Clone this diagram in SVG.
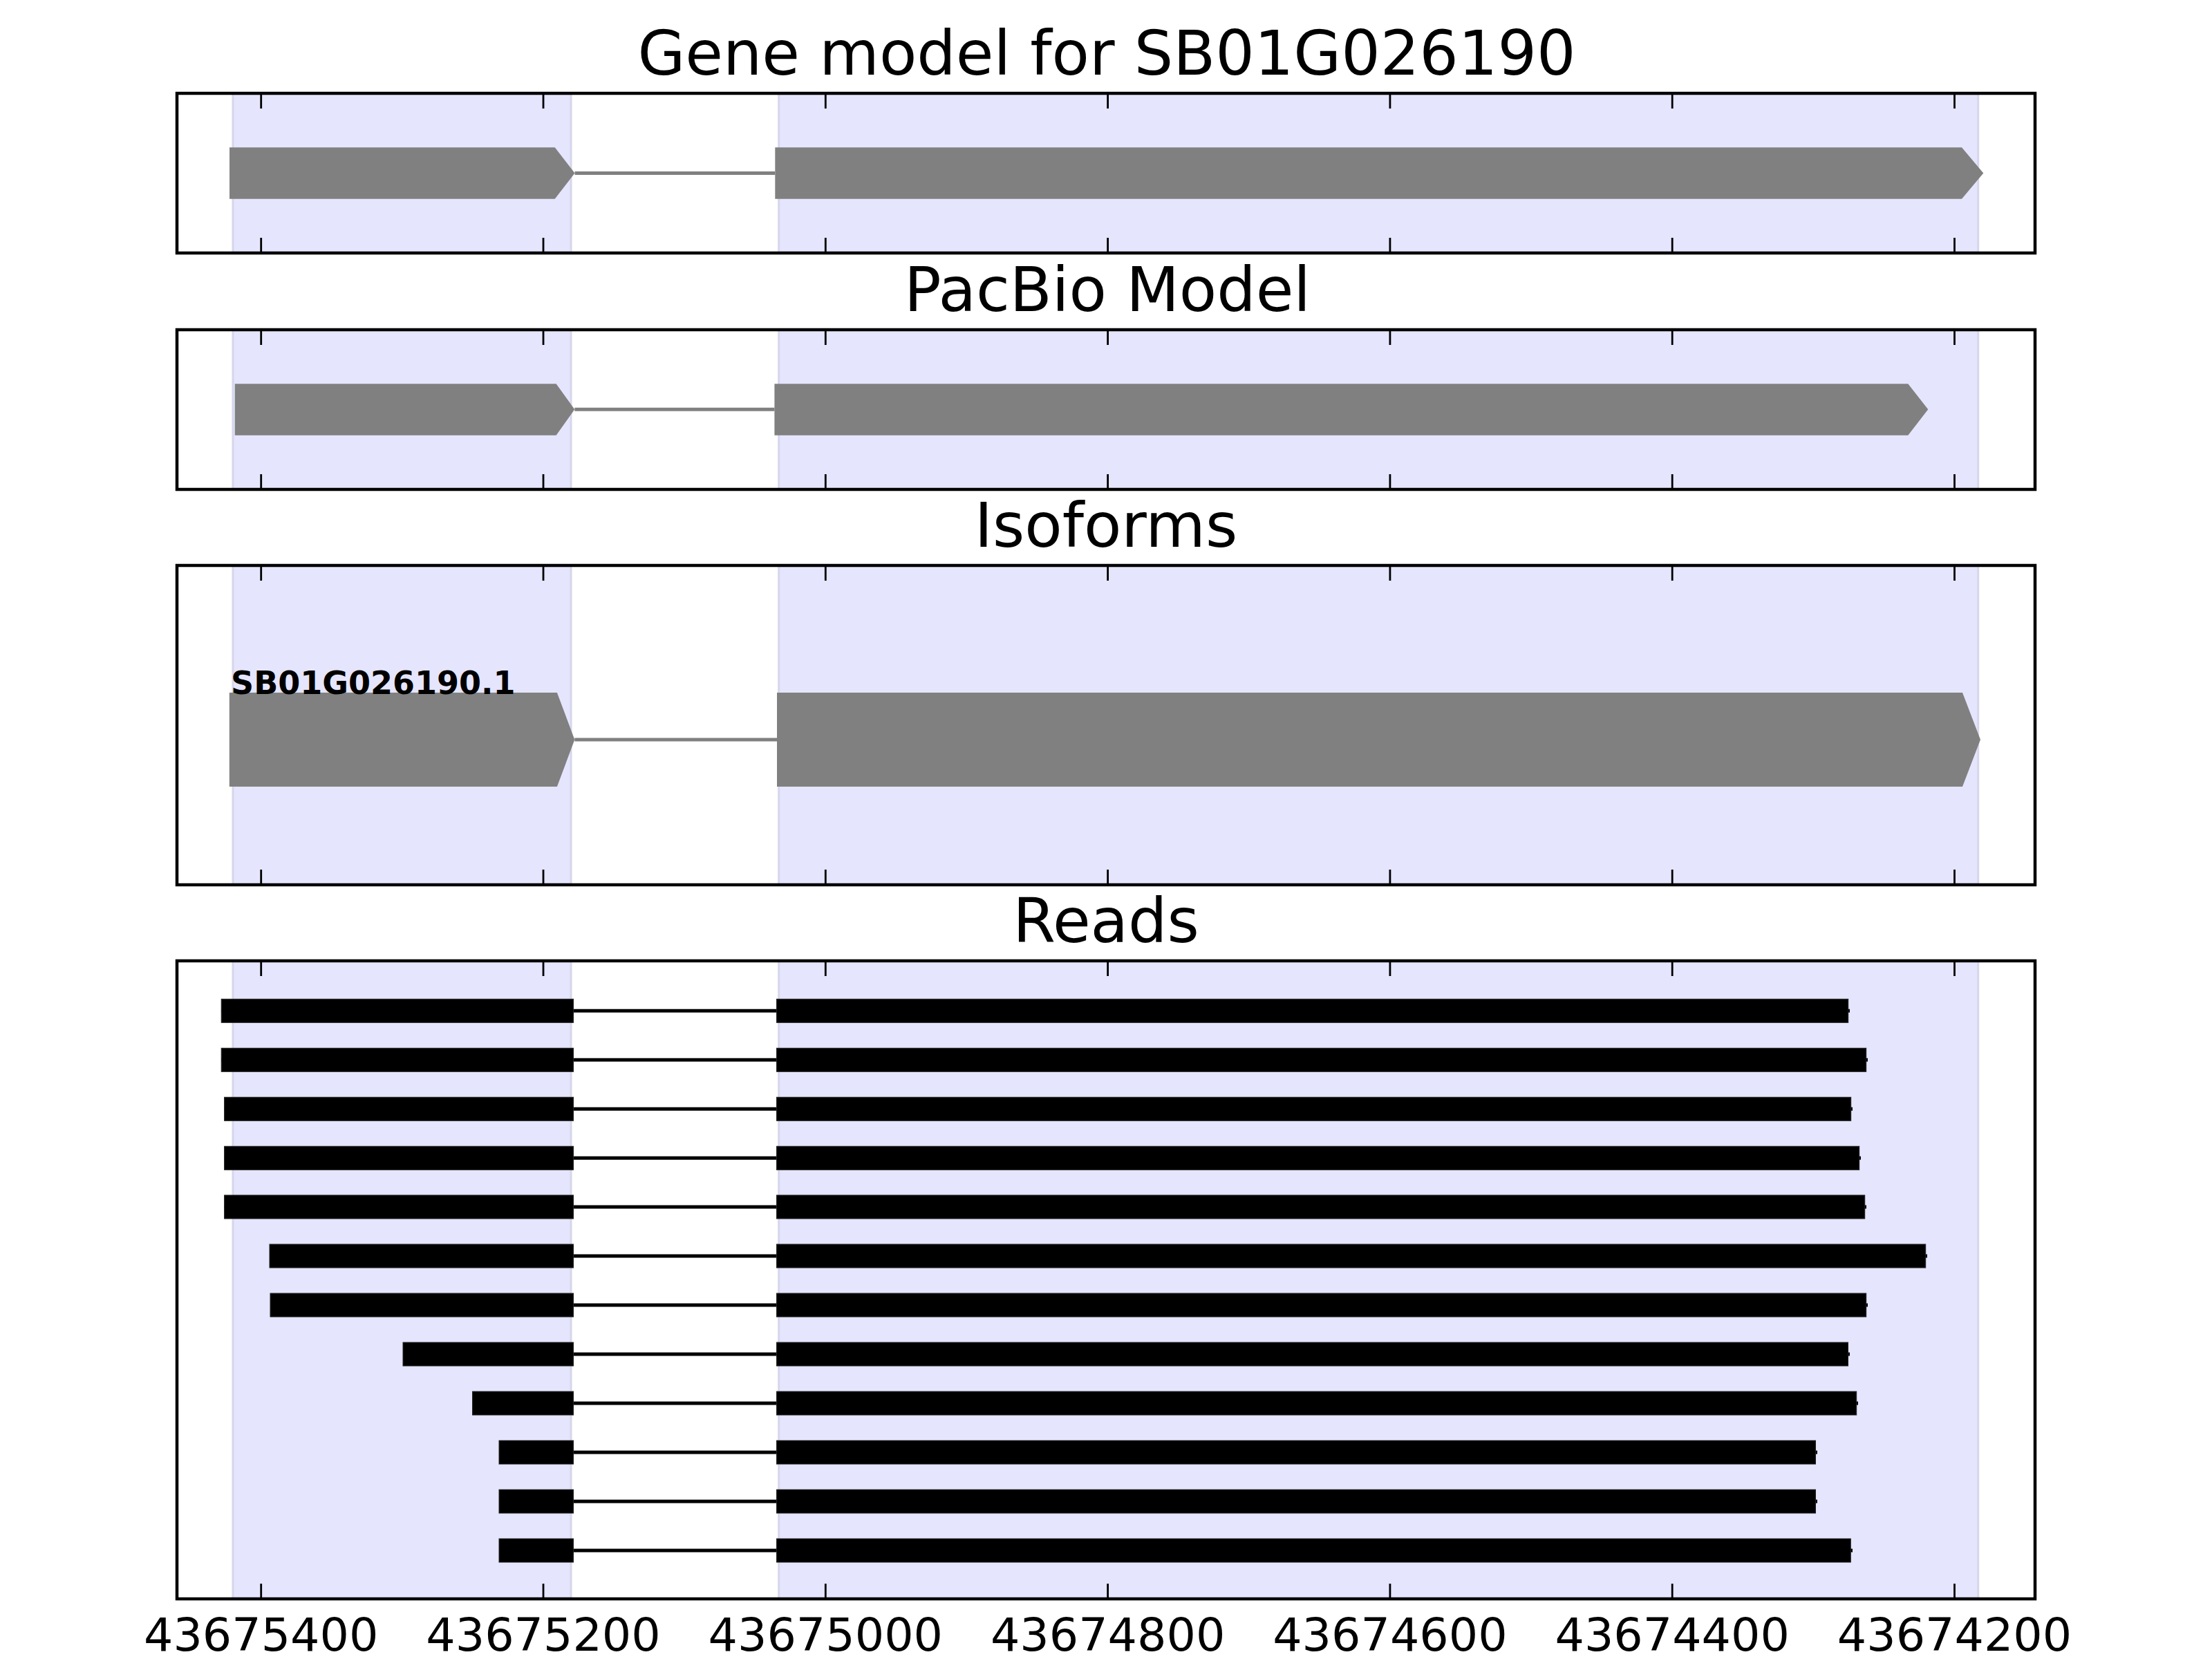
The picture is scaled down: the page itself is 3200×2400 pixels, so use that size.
<svg xmlns="http://www.w3.org/2000/svg" width="3200" height="2400" viewBox="0 0 3200 2400">
<style>
.bg{fill:#ffffff}
.shade{fill:#e5e5fd;stroke:#d6d6ec;stroke-width:3}
.frame{fill:none;stroke:#000;stroke-width:4.5}
.tick{stroke:#000;stroke-width:2.8}
.gene{fill:#808080;stroke:none}
.gintron{stroke:#808080;stroke-width:5}
.bar{fill:#000;stroke:#222;stroke-width:1}
.rline{stroke:#000;stroke-width:5}
.title{font-family:"DejaVu Sans","Liberation Sans",sans-serif;font-size:88.9px;text-anchor:middle;fill:#000}
.tl{font-family:"DejaVu Sans","Liberation Sans",sans-serif;font-size:66.7px;text-anchor:middle;fill:#000}
.iso{font-family:"DejaVu Sans","Liberation Sans",sans-serif;font-size:46px;font-weight:bold;fill:#000}
</style>
<defs>
<g id="ticks">
<line class="tick" x1="377.7" y1="0" x2="377.7" y2="22"/>
<line class="tick" x1="786" y1="0" x2="786" y2="22"/>
<line class="tick" x1="1194.3" y1="0" x2="1194.3" y2="22"/>
<line class="tick" x1="1602.6" y1="0" x2="1602.6" y2="22"/>
<line class="tick" x1="2010.9" y1="0" x2="2010.9" y2="22"/>
<line class="tick" x1="2419.2" y1="0" x2="2419.2" y2="22"/>
<line class="tick" x1="2827.5" y1="0" x2="2827.5" y2="22"/>
</g>
</defs>
<rect class="bg" x="0" y="0" width="3200" height="2400"/>

<g id="panel-gene-model">
<text class="title" x="1601" y="108">Gene model for SB01G026190</text>
<rect class="shade" x="337" y="135" width="489" height="231"/>
<rect class="shade" x="1126.7" y="135" width="1735" height="231"/>
<g id="gene-model-exon1"><polygon class="gene" points="332,213.3 802.7,213.3 831.5,250.5 802.7,287.7 332,287.7"/></g>
<g id="gene-model-exon2"><polygon class="gene" points="1121.3,213.3 2838,213.3 2869.3,250.5 2838,287.7 1121.3,287.7"/></g>
<rect class="frame" x="256" y="135" width="2688" height="231"/>
<use href="#ticks" transform="translate(0,135)"/>
<use href="#ticks" transform="translate(0,366) scale(1,-1)"/>
</g>

<g id="panel-pacbio">
<text class="title" x="1602" y="450">PacBio Model</text>
<rect class="shade" x="337" y="477" width="489" height="231"/>
<rect class="shade" x="1126.7" y="477" width="1735" height="231"/>
<g id="pacbio-exon1"><polygon class="gene" points="339.8,555.3 804.6,555.3 831.3,592.3 804.6,629.7 339.8,629.7"/></g>
<g id="pacbio-exon2"><polygon class="gene" points="1120.4,555.3 2760.3,555.3 2789.3,592.3 2760.3,629.7 1120.4,629.7"/></g>
<rect class="frame" x="256" y="477" width="2688" height="231"/>
<use href="#ticks" transform="translate(0,477)"/>
<use href="#ticks" transform="translate(0,708) scale(1,-1)"/>
</g>

<g id="panel-isoforms">
<text class="title" x="1600" y="791">Isoforms</text>
<rect class="shade" x="337" y="818" width="489" height="462"/>
<rect class="shade" x="1126.7" y="818" width="1735" height="462"/>
<g id="isoform-exon1"><polygon class="gene" points="331.8,1002 805.9,1002 831.3,1070 805.9,1138 331.8,1138"/></g>
<g id="isoform-exon2"><polygon class="gene" points="1124,1002 2839,1002 2865,1070 2839,1138 1124,1138"/></g>
<text class="iso" x="334" y="1004">SB01G026190.1</text>
<rect class="frame" x="256" y="818" width="2688" height="462"/>
<use href="#ticks" transform="translate(0,818)"/>
<use href="#ticks" transform="translate(0,1280) scale(1,-1)"/>
</g>

<g id="panel-reads">
<text class="title" x="1600" y="1363">Reads</text>
<rect class="shade" x="337" y="1390" width="489" height="923"/>
<rect class="shade" x="1126.7" y="1390" width="1735" height="923"/>
<g id="reads">
<g id="read-1"><line class="rline" x1="320.2" y1="1462.3" x2="2676" y2="1462.3"/><rect class="bar" x="320.2" y="1445.3" width="509.3" height="34"/><rect class="bar" x="1123.5" y="1445.3" width="1550.2" height="34"/></g>
<g id="read-2"><line class="rline" x1="320.2" y1="1533.3" x2="2702" y2="1533.3"/><rect class="bar" x="320.2" y="1516.3" width="509.3" height="34"/><rect class="bar" x="1123.5" y="1516.3" width="1576.2" height="34"/></g>
<g id="read-3"><line class="rline" x1="324.6" y1="1604.3" x2="2680" y2="1604.3"/><rect class="bar" x="324.6" y="1587.3" width="504.9" height="34"/><rect class="bar" x="1123.5" y="1587.3" width="1554.2" height="34"/></g>
<g id="read-4"><line class="rline" x1="324.6" y1="1675.3" x2="2692" y2="1675.3"/><rect class="bar" x="324.6" y="1658.3" width="504.9" height="34"/><rect class="bar" x="1123.5" y="1658.3" width="1566.2" height="34"/></g>
<g id="read-5"><line class="rline" x1="324.6" y1="1746" x2="2700" y2="1746"/><rect class="bar" x="324.6" y="1729" width="504.9" height="34"/><rect class="bar" x="1123.5" y="1729" width="1574.2" height="34"/></g>
<g id="read-6"><line class="rline" x1="390" y1="1817" x2="2788" y2="1817"/><rect class="bar" x="390" y="1800" width="439.5" height="34"/><rect class="bar" x="1123.5" y="1800" width="1662.2" height="34"/></g>
<g id="read-7"><line class="rline" x1="391" y1="1888" x2="2702" y2="1888"/><rect class="bar" x="391" y="1871" width="438.5" height="34"/><rect class="bar" x="1123.5" y="1871" width="1576.2" height="34"/></g>
<g id="read-8"><line class="rline" x1="583" y1="1959" x2="2676" y2="1959"/><rect class="bar" x="583" y="1942" width="246.5" height="34"/><rect class="bar" x="1123.5" y="1942" width="1550" height="34"/></g>
<g id="read-9"><line class="rline" x1="683.5" y1="2030" x2="2688" y2="2030"/><rect class="bar" x="683.5" y="2013" width="146" height="34"/><rect class="bar" x="1123.5" y="2013" width="1562.2" height="34"/></g>
<g id="read-10"><line class="rline" x1="722" y1="2101" x2="2629" y2="2101"/><rect class="bar" x="722" y="2084" width="107.5" height="34"/><rect class="bar" x="1123.5" y="2084" width="1503" height="34"/></g>
<g id="read-11"><line class="rline" x1="722" y1="2172" x2="2629" y2="2172"/><rect class="bar" x="722" y="2155" width="107.5" height="34"/><rect class="bar" x="1123.5" y="2155" width="1503" height="34"/></g>
<g id="read-12"><line class="rline" x1="722" y1="2243" x2="2680" y2="2243"/><rect class="bar" x="722" y="2226" width="107.5" height="34"/><rect class="bar" x="1123.5" y="2226" width="1553.8" height="34"/></g>
</g>
<rect class="frame" x="256" y="1390" width="2688" height="923"/>
<use href="#ticks" transform="translate(0,1390)"/>
<use href="#ticks" transform="translate(0,2313) scale(1,-1)"/>
</g>

<g id="connectors">
<line class="gintron" x1="831.5" y1="250.5" x2="1121.3" y2="250.5"/>
<line class="gintron" x1="831.3" y1="592.3" x2="1120.4" y2="592.3"/>
<line class="gintron" x1="831.3" y1="1070" x2="1124" y2="1070"/>
</g>

<g id="x-axis-labels">
<text class="tl" x="377.7" y="2388">43675400</text>
<text class="tl" x="786" y="2388">43675200</text>
<text class="tl" x="1194.3" y="2388">43675000</text>
<text class="tl" x="1602.6" y="2388">43674800</text>
<text class="tl" x="2010.9" y="2388">43674600</text>
<text class="tl" x="2419.2" y="2388">43674400</text>
<text class="tl" x="2827.5" y="2388">43674200</text>
</g>
</svg>
